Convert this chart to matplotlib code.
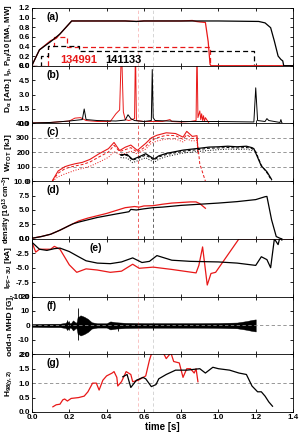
import numpy as np
import matplotlib
matplotlib.use('Agg')
import matplotlib.pyplot as plt

plt.rcParams['font.family'] = 'Liberation Sans'
plt.rcParams['font.weight'] = 'bold'
plt.rcParams['mathtext.fontset'] = 'custom'
plt.rcParams['mathtext.rm'] = 'Liberation Sans:bold'
plt.rcParams['mathtext.it'] = 'Liberation Sans:bold'
plt.rcParams['mathtext.bf'] = 'Liberation Sans:bold'
plt.rcParams['mathtext.default'] = 'rm'

RED = '#e81818'

# ---- (a) plasma current and injected power / 10
ip_k_t = [0, 0.005, 0.04, 0.1, 0.15, 0.213, 0.3, 0.5, 0.56, 0.6, 0.8, 1.0, 1.216, 1.25, 1.28, 1.30, 1.32, 1.335, 1.345, 1.35, 1.4]
ip_k = [0, 0.05, 0.33, 0.5, 0.66, 0.93, 0.93, 0.93, 0.92, 0.93, 0.93, 0.93, 0.92, 0.89, 0.79, 0.51, 0.2, 0.13, 0.1, 0, 0]
ip_r_t = [0, 0.005, 0.04, 0.1, 0.13, 0.15, 0.213, 0.3, 0.5, 0.56, 0.6, 0.8, 0.86, 0.88, 0.9, 0.93, 0.945, 0.955, 0.96, 1.4]
ip_r = [0, 0.05, 0.33, 0.52, 0.57, 0.66, 0.93, 0.93, 0.93, 0.92, 0.93, 0.93, 0.94, 0.92, 0.91, 0.9, 0.5, 0.03, 0, 0]
pinj_k_t = [0, 0.05, 0.05, 0.085, 0.085, 0.25, 0.25, 1.19, 1.19, 1.4]
pinj_k = [0, 0, 0.2, 0.2, 0.4, 0.4, 0.3, 0.3, 0, 0]
pinj_r_t = [0, 0.085, 0.085, 0.12, 0.12, 0.19, 0.19, 0.955, 0.955, 1.4]
pinj_r = [0, 0, 0.4, 0.4, 0.6, 0.6, 0.38, 0.38, 0, 0]

# ---- (b) D-alpha
da_k_t = [0, 0.1, 0.2, 0.27, 0.28, 0.29, 0.35, 0.45, 0.5, 0.515, 0.53, 0.55, 0.6, 0.64, 0.645, 0.65, 0.66, 0.8, 1.0, 1.19, 1.2, 1.21, 1.25, 1.26, 1.27, 1.3, 1.33, 1.335, 1.34, 1.345]
da_k = [0.05, 0.1, 0.25, 0.4, 1.5, 0.4, 0.3, 0.25, 0.35, 0.9, 0.5, 0.3, 0.2, 0.3, 5.6, 0.6, 0.3, 0.2, 0.2, 0.15, 3.7, 0.3, 0.2, 0.5, 0.3, 0.2, 0.1, 0.4, 0.05, 0.0]
da_r_t = [0, 0.1, 0.2, 0.23, 0.26, 0.29, 0.35, 0.42, 0.45, 0.47, 0.48, 0.49, 0.5, 0.52, 0.55, 0.555, 0.56, 0.6, 0.7, 0.74, 0.75, 0.8, 0.85, 0.88, 0.885, 0.89, 0.9, 0.905, 0.91, 0.915, 0.92, 0.925, 0.93, 0.95, 1.0, 1.4]
da_r = [0.05, 0.1, 0.25, 0.55, 0.6, 0.3, 0.2, 0.2, 1.0, 1.4, 8, 1.2, 0.4, 0.3, 0.5, 8, 0.3, 0.2, 0.2, 0.4, 0.2, 0.15, 0.2, 0.3, 8, 0.6, 1.3, 0.4, 1.0, 0.3, 0.8, 0.2, 0.6, 0.0, -0.1, -0.1]

# ---- (c) stored energy (solid, dashed, dotted)
w_r_t = [0.11, 0.14, 0.176, 0.2, 0.23, 0.27, 0.31, 0.36, 0.41, 0.44, 0.47, 0.5, 0.53, 0.565, 0.61, 0.64, 0.67, 0.72, 0.77, 0.81, 0.83, 0.86, 0.885, 0.89]
w_r = [5, 70, 100, 110, 120, 130, 150, 190, 225, 268, 212, 235, 250, 213, 262, 300, 318, 335, 330, 305, 345, 310, 315, 210]
w_r_dash_t = [0.11, 0.14, 0.176, 0.2, 0.23, 0.27, 0.31, 0.36, 0.41, 0.44, 0.47, 0.5, 0.53, 0.565, 0.61, 0.64, 0.67, 0.72, 0.77, 0.81, 0.83, 0.86, 0.885, 0.9, 0.93]
w_r_dash = [0, 55, 85, 95, 105, 115, 132, 168, 202, 248, 205, 218, 232, 200, 240, 282, 300, 318, 315, 290, 322, 295, 300, 120, 0]
w_r_dot = [0, 30, 50, 60, 75, 88, 102, 132, 165, 205, 185, 192, 208, 188, 222, 262, 278, 292, 292, 272, 292, 278, 282, 190]
w_k_t = [0.475, 0.51, 0.54, 0.58, 0.61, 0.655, 0.68, 0.72, 0.81, 0.9, 0.95, 1.0, 1.05, 1.1, 1.15, 1.18, 1.19, 1.2, 1.23, 1.26, 1.285]
w_k = [183, 185, 150, 172, 190, 153, 175, 192, 215, 228, 236, 238, 242, 238, 242, 232, 225, 195, 105, 65, 12]
w_k_dash = [178, 178, 145, 164, 180, 146, 168, 184, 207, 220, 228, 230, 233, 230, 233, 226, 215, 205, 110, 58, 5]
w_k_dot_t = [0.475, 0.51, 0.54, 0.58, 0.61, 0.655, 0.68, 0.72, 0.81, 0.9, 0.95, 1.0, 1.05, 1.1, 1.15, 1.19]
w_k_dot = [163, 160, 128, 148, 162, 130, 152, 170, 195, 207, 213, 218, 222, 220, 222, 210]

# ---- (d) density
ne_k_t = [0, 0.05, 0.1, 0.15, 0.2, 0.22, 0.25, 0.3, 0.35, 0.4, 0.45, 0.52, 0.53, 0.56, 0.6, 0.65, 0.7, 0.8, 0.9, 1.0, 1.1, 1.2, 1.25, 1.26, 1.285, 1.31, 1.33, 1.34]
ne_k = [0.1, 0.4, 0.8, 1.5, 2.3, 2.6, 2.9, 3.3, 3.7, 4.0, 4.3, 4.7, 5.1, 5.0, 5.2, 5.4, 5.5, 5.8, 6.0, 6.2, 6.45, 6.8, 7.3, 7.35, 3.3, 0.4, 0.1, 0.0]
ne_r_t = [0, 0.05, 0.1, 0.15, 0.2, 0.25, 0.3, 0.35, 0.4, 0.45, 0.5, 0.55, 0.575, 0.6, 0.65, 0.7, 0.75, 0.8, 0.85, 0.88, 0.9, 0.93]
ne_r = [0.1, 0.4, 0.8, 1.5, 2.3, 3.1, 3.6, 4.0, 4.4, 4.9, 5.4, 5.6, 5.5, 5.7, 5.75, 6.0, 6.2, 6.3, 6.4, 6.4, 6.1, 5.3]

# ---- (e) PF-3U coil current
pf_k_t = [0, 0.04, 0.08, 0.12, 0.15, 0.2, 0.25, 0.29, 0.35, 0.42, 0.48, 0.54, 0.59, 0.63, 0.67, 0.75, 0.85, 1.0, 1.1, 1.2, 1.23, 1.26, 1.28, 1.30, 1.32, 1.33, 1.34]
pf_k = [-0.6, -1.8, -2.0, -1.7, -1.6, -2.2, -3.1, -3.8, -4.2, -4.3, -4.0, -3.3, -4.1, -3.9, -2.9, -3.7, -3.9, -4.0, -4.2, -4.6, -3.1, -3.6, -5.0, 0.0, -1.0, 0.3, -0.2]
pf_r_t = [0, 0.02, 0.04, 0.1, 0.12, 0.15, 0.2, 0.24, 0.29, 0.35, 0.42, 0.48, 0.54, 0.575, 0.65, 0.75, 0.88, 0.895, 0.915, 0.94, 0.96, 0.985, 1.11, 1.4]
pf_r = [-0.6, -2.3, -1.8, -1.8, -1.3, -1.8, -4.5, -5.8, -5.2, -5.4, -5.8, -5.6, -4.4, -5.1, -4.9, -5.3, -5.9, -4.6, -1.4, -8.0, -6.0, -5.8, 0.0, 0.0]

# ---- (f) odd-n MHD amplitude envelope and isolated spikes
mhd_t = [0, 0.1, 0.15, 0.18, 0.19, 0.2, 0.21, 0.22, 0.235, 0.24, 0.245, 0.25, 0.26, 0.28, 0.3, 0.32, 0.35, 0.4, 0.42, 0.45, 0.5, 0.6, 0.7, 0.8, 0.9, 1.0, 1.1, 1.15, 1.18, 1.2]
mhd_amp = [1.0, 1.2, 1.2, 1.8, 3.0, 1.5, 1.8, 3.5, 1.8, 2.5, 6.0, 6.0, 7.0, 6.0, 4.5, 2.2, 1.5, 1.5, 2.8, 2.2, 1.8, 1.6, 1.6, 1.6, 1.6, 1.7, 2.0, 3.0, 3.8, 4.2]
spike_t = [0.19, 0.2, 0.247, 0.46, 0.65]
spike_hi = [3.5, 3.0, 12.0, 2.0, 2.0]
spike_lo = [-3.5, -3.0, -10.0, -4.0, -3.5]

# ---- (g) confinement factor
h_r_t = [0.112, 0.13, 0.15, 0.165, 0.175, 0.19, 0.21, 0.25, 0.28, 0.3, 0.325, 0.345, 0.36, 0.38, 0.4, 0.43, 0.44, 0.455, 0.46, 0.48, 0.505, 0.53, 0.54, 0.57, 0.61, 0.63, 0.645, 0.7, 0.72, 0.745, 0.76, 0.79, 0.81, 0.83, 0.85, 0.87, 0.88, 0.89]
h_r = [0.18, 0.25, 0.27, 0.42, 0.45, 0.38, 0.47, 0.5, 0.55, 0.7, 1.0, 1.0, 0.76, 1.1, 1.25, 1.35, 1.4, 1.2, 0.9, 1.05, 1.4, 1.3, 1.05, 1.1, 1.25, 1.8, 2.1, 2.1, 1.85, 2.05, 1.75, 1.7, 1.2, 1.5, 1.5, 1.35, 1.5, 1.05]
h_k_t = [0.487, 0.51, 0.53, 0.56, 0.595, 0.61, 0.64, 0.665, 0.68, 0.72, 0.77, 0.83, 0.9, 0.93, 0.97, 1.0, 1.06, 1.11, 1.15, 1.18, 1.21, 1.23, 1.25, 1.27, 1.29]
h_k = [1.22, 1.3, 0.85, 1.1, 1.2, 1.15, 0.88, 0.95, 1.15, 1.3, 1.45, 1.45, 1.5, 1.35, 1.55, 1.5, 1.45, 1.35, 1.3, 0.9, 0.7, 0.7, 0.55, 0.35, 0.2]

t_red, t_black = 0.57, 0.65

ylabels = [r'I$_p$, P$_{inj}$/10 [MA, MW]', r'D$_\alpha$ [Arb.]', r'W$_{TOT}$ [kJ]',
           r'density [10$^{13}$ cm$^{-3}$]', r'I$_{PF-3U}$ [kA]', 'odd-n MHD [G],', r'H$_{98(y,2)}$']
ylsize = [5.6, 6, 6, 5.4, 6, 6, 6]
ylims = [(0, 1.2), (0, 6), (0, 400), (0, 10), (-10, 0), (-20, 20), (0, 2)]
yticks = [[0, 0.2, 0.4, 0.6, 0.8, 1.0, 1.2], [0, 1.5, 3, 4.5, 6], [0, 100, 200, 300, 400],
          [0, 2.5, 5, 7.5, 10], [-10, -7.5, -5, -2.5, 0], [-20, -10, 0, 10, 20], [0, 0.5, 1, 1.5, 2]]
yfmt = ['%.1f', '%.1f', '%d', '%.1f', '%.1f', '%d', '%.1f']
tags = ['(a)', '(b)', '(c)', '(d)', '(e)', '(f)', '(g)']

fig = plt.figure(figsize=(2.99, 4.34), dpi=100)
left, right, top, bottom = 0.107, 0.980, 0.9816, 0.0507
h = (top - bottom) / 7
axes = []
for i in range(7):
    ax = fig.add_axes([left, top - (i + 1) * h, right - left, h])
    axes.append(ax)

for i, ax in enumerate(axes):
    ax.set_xlim(0, 1.4)
    ax.set_ylim(*ylims[i])
    ax.set_yticks(yticks[i])
    ax.set_yticklabels([yfmt[i] % v for v in yticks[i]])
    ax.set_xticks(np.arange(0, 1.41, 0.2))
    ax.tick_params(direction='in', top=True, right=True, labelsize=5.8, length=2.5,
                   width=0.6, pad=1.5)
    if i < 6:
        ax.tick_params(labelbottom=False)
    for s in ax.spines.values():
        s.set_linewidth(0.6)
    ax.set_ylabel(ylabels[i], fontsize=ylsize[i], fontweight='bold')
    ax.yaxis.set_label_coords(-0.068, 0.44 if i == 0 else 0.5)
    strong = i in (2, 3)
    ax.axvline(t_red, color=RED, ls=(0, (4, 3)), lw=0.6, alpha=0.8 if strong else 0.3)
    ax.axvline(t_black, color='k' if strong else '#888888', ls=(0, (4, 3)), lw=0.6,
               alpha=0.7 if strong else 0.4)
    ax.text(0.22 if i == 4 else 0.055, 0.93, tags[i], transform=ax.transAxes,
            fontsize=7.5, fontweight='bold', va='top', ha='left')

axes[-1].set_xticklabels(['%.1f' % v for v in np.arange(0, 1.41, 0.2)])
axes[-1].set_xlabel('time [s]', fontsize=7, fontweight='bold', labelpad=0.5)

lw = 0.9
# (a)
ax = axes[0]
ax.plot(pinj_r_t, pinj_r, color=RED, ls=(0, (4, 2.5)), lw=lw)
ax.plot(pinj_k_t, pinj_k, color='k', ls=(0, (4, 2.5)), lw=lw)
ax.plot(ip_r_t, ip_r, color=RED, lw=lw)
ax.plot(ip_k_t, ip_k, color='k', lw=lw)
ax.text(0.15, 0.02, '134991', color=RED, fontsize=8, fontweight='bold', va='bottom')
ax.text(0.395, 0.02, '141133', color='k', fontsize=8, fontweight='bold', va='bottom')

# (b)
ax = axes[1]
ax.plot(da_r_t, da_r, color=RED, lw=0.7)
ax.plot(da_k_t, da_k, color='k', lw=0.7)

# (c)
ax = axes[2]
for y in (100, 200, 300):
    ax.axhline(y, color='#888888', ls=(0, (4, 3)), lw=0.6)
ax.plot(w_r_t, w_r_dot, color=RED, ls=':', lw=0.7)
ax.plot(w_r_dash_t, w_r_dash, color=RED, ls=(0, (3, 2)), lw=0.7)
ax.plot(w_r_t, w_r, color=RED, lw=0.8)
ax.plot(w_k_dot_t, w_k_dot, color='k', ls=':', lw=0.7)
ax.plot(w_k_t, w_k_dash, color='k', ls=(0, (3, 2)), lw=0.7)
ax.plot(w_k_t, w_k, color='k', lw=0.9)

# (d)
ax = axes[3]
ax.plot(ne_r_t, ne_r, color=RED, lw=lw)
ax.plot(ne_k_t, ne_k, color='k', lw=lw)

# (e)
ax = axes[4]
ax.plot(pf_r_t, pf_r, color=RED, lw=lw)
ax.plot(pf_k_t, pf_k, color='k', lw=lw)

# (f)
ax = axes[5]
ax.axhline(0, color='#888888', ls=(0, (4, 3)), lw=0.6)
amp = np.array(mhd_amp)
ax.fill_between(mhd_t, -amp, amp, color='k', lw=0.3)
ax.vlines(spike_t, spike_lo, spike_hi, color='k', lw=0.6)

# (g)
ax = axes[6]
ax.axhline(1.0, color='#888888', ls=(0, (4, 3)), lw=0.6)
ax.plot(h_r_t, h_r, color=RED, lw=lw)
ax.plot(h_k_t, h_k, color='k', lw=lw)

fig.savefig('out.png', dpi=100)
